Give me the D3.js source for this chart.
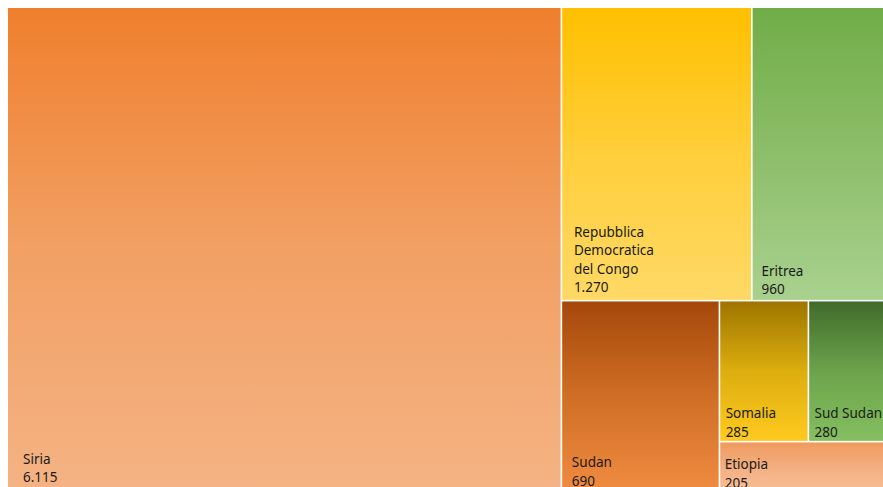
<!DOCTYPE html>
<html lang="it">
<head>
<meta charset="UTF-8">
<title>Treemap</title>
<script src="https://d3js.org/d3.v7.min.js"></script>
<style>
  body { margin: 0; background: #fff; }
  svg { display: block; }
  text { font-family: "Noto Sans", sans-serif; font-size: 13.5px; fill: #1a1a1a; }
</style>
</head>
<body>
<script>
// data
const countries = ["Siria", "Repubblica Democratica del Congo", "Eritrea", "Sudan", "Somalia", "Sud Sudan", "Etiopia"];
const values = [6115, 1270, 960, 690, 285, 280, 205];
// gradient top / middle / bottom per cell
const topColors = ["#EF7F2D", "#FFC000", "#70AD47", "#A4480A", "#9E7500", "#406B2B", "#EF9A5E"];
const midColors = ["#F2A064", "#FFCE3A", "#8DBE6A", "#D06E25", "#DCAE0E", "#6CA34C", "#F4AF80"];
const bottomColors = ["#F4B384", "#FFD966", "#A9D18E", "#F08C42", "#FFCA20", "#85BF5F", "#F7C09A"];

const W = 883, H = 487;
const svg = d3.select("body").append("svg").attr("width", W).attr("height", H);

const it = d3.formatLocale({decimal: ",", thousands: ".", grouping: [3], currency: ["€", ""]});
const fmt = it.format(",d");

const rows = countries.map((c, i) => ({name: c, value: values[i], i: i}));
const root = d3.hierarchy({children: rows}).sum(d => d.value || 0)
  .sort((a, b) => b.value - a.value);

d3.treemap().tile(d3.treemapSquarify).size([887, 484]).paddingInner(1.6)(root);

const defs = svg.append("defs");
root.leaves().forEach(d => {
  const g = defs.append("linearGradient").attr("id", "grad" + d.data.i)
    .attr("x1", 0).attr("y1", 0).attr("x2", 0).attr("y2", 1);
  g.append("stop").attr("offset", "0%").attr("stop-color", topColors[d.data.i]);
  g.append("stop").attr("offset", "50%").attr("stop-color", midColors[d.data.i]);
  g.append("stop").attr("offset", "100%").attr("stop-color", bottomColors[d.data.i]);
});

const plot = svg.append("g").attr("transform", "translate(8,8)");

const cell = plot.selectAll("g.cell").data(root.leaves()).enter().append("g")
  .attr("class", "cell")
  .attr("transform", d => `translate(${d.x0},${d.y0})`);

cell.append("rect")
  .attr("width", d => d.x1 - d.x0)
  .attr("height", d => d.y1 - d.y0)
  .attr("fill", d => `url(#grad${d.data.i})`);

// wrap labels by words
const ctx = document.createElement("canvas").getContext("2d");
ctx.font = '13.5px "Noto Sans"';
function wrap(str, maxW) {
  const words = str.split(" ");
  const lines = [];
  let cur = "";
  words.forEach(w => {
    const t = cur ? cur + " " + w : w;
    if (cur && ctx.measureText(t).width > maxW) { lines.push(cur); cur = w; }
    else cur = t;
  });
  lines.push(cur);
  return lines;
}

cell.each(function(d) {
  const w = d.x1 - d.x0, h = d.y1 - d.y0;
  const off = Math.max(4.5, Math.min(15, Math.min(w, h) * 0.062));
  const lines = wrap(d.data.name, Math.min(95, w - 2 * off));
  lines.push(fmt(d.data.value));
  const lh = 18.5;
  const bottom = h - Math.max(4, off * 0.65);
  const t = d3.select(this).append("text");
  lines.forEach((l, k) => {
    t.append("tspan").attr("x", off)
      .attr("y", bottom - (lines.length - 1 - k) * lh)
      .text(l);
  });
});
</script>
</body>
</html>
